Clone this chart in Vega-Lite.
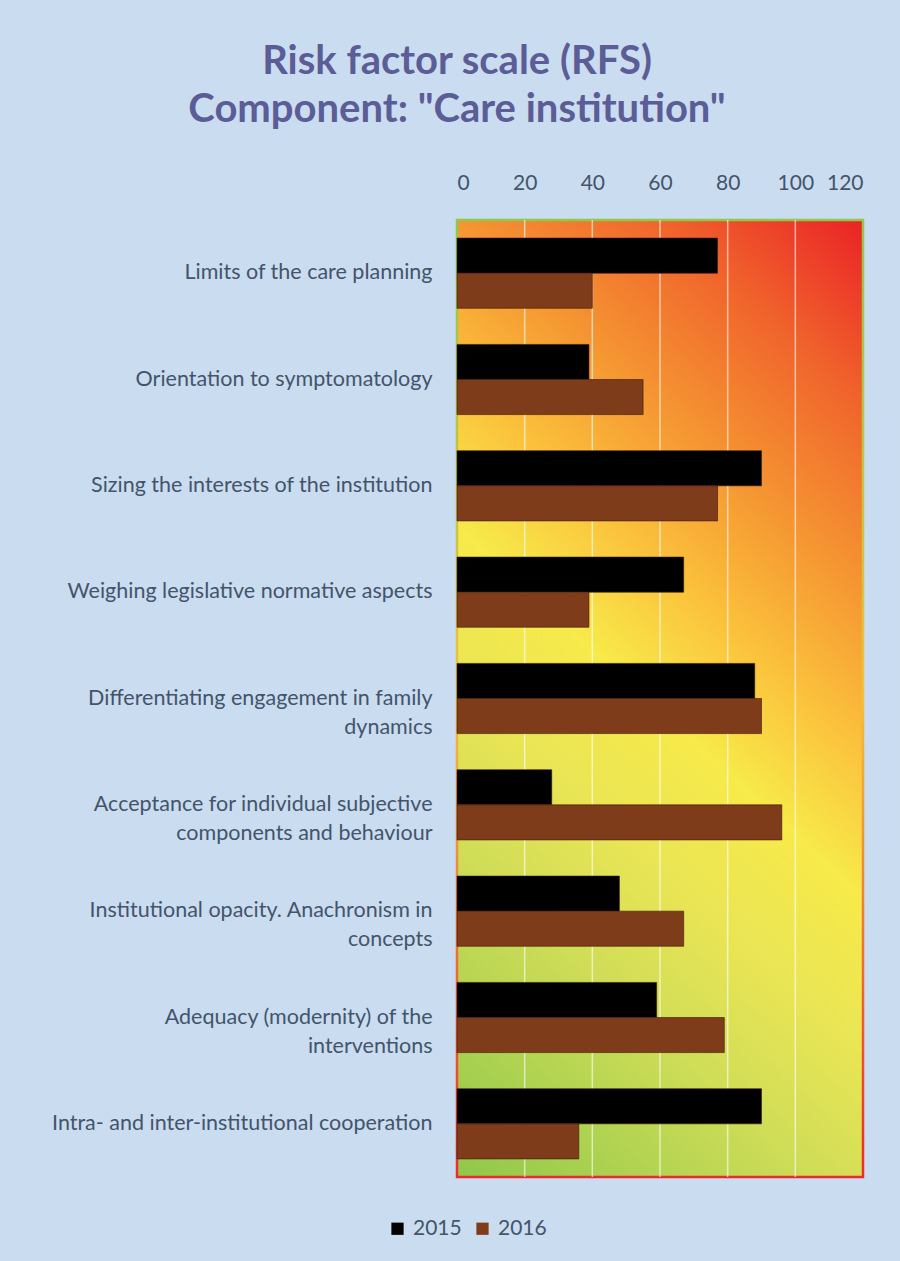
{
  "$schema": "https://vega.github.io/schema/vega-lite/v6.json",
  "width": 406,
  "height": 957,
  "autosize": {"type": "none"},
  "padding": {"left": 457, "top": 220, "right": 37, "bottom": 84},
  "background": "#c9dcf0",
  "title": {
    "text": ["Risk factor scale (RFS)", "Component: \"Care institution\""],
    "font": "Lato",
    "fontSize": 40,
    "fontWeight": "bold",
    "color": "#5c5c96",
    "lineHeight": 48,
    "anchor": "middle",
    "dx": -203,
    "offset": 42
  },
  "config": {
    "view": {"stroke": null},
    "axis": {"labelFont": "Lato", "labelColor": "#44546a"},
    "legend": {"labelFont": "Lato"}
  },
  "layer": [
    {
      "data": {"values": [{"a": 0, "b": 120}]},
      "mark": {
        "type": "rect",
        "fill": {
          "gradient": "linear",
          "x1": 0, "y1": 1, "x2": 0.47, "y2": -0.207,
          "stops": [
            {"offset": 0, "color": "#8fc84b"},
            {"offset": 0.25, "color": "#d0dd57"},
            {"offset": 0.37, "color": "#e9e555"},
            {"offset": 0.49, "color": "#f7ea4a"},
            {"offset": 0.6, "color": "#fbc23c"},
            {"offset": 0.72, "color": "#f59632"},
            {"offset": 0.86, "color": "#f0642c"},
            {"offset": 1, "color": "#ea2226"}
          ]
        },
        "stroke": {
          "gradient": "linear",
          "x1": 0, "y1": 0, "x2": 0, "y2": 1,
          "stops": [
            {"offset": 0, "color": "#8fc84b"},
            {"offset": 0.5, "color": "#f0c040"},
            {"offset": 1, "color": "#ee2a2a"}
          ]
        },
        "strokeWidth": 2.5
      },
      "encoding": {
        "x": {"field": "a", "type": "quantitative"},
        "x2": {"field": "b"}
      }
    },
    {
      "data": {"values": [{"g": 20}, {"g": 40}, {"g": 60}, {"g": 80}, {"g": 100}]},
      "mark": {"type": "rule", "color": "#ffffff", "opacity": 0.6, "strokeWidth": 1.5},
      "encoding": {"x": {"field": "g", "type": "quantitative"}}
    },
    {
      "data": {
        "values": [
          {"item": "Limits of the care planning", "year": "2015", "value": 77},
          {"item": "Limits of the care planning", "year": "2016", "value": 40},
          {"item": "Orientation to symptomatology", "year": "2015", "value": 39},
          {"item": "Orientation to symptomatology", "year": "2016", "value": 55},
          {"item": "Sizing the interests of the institution", "year": "2015", "value": 90},
          {"item": "Sizing the interests of the institution", "year": "2016", "value": 77},
          {"item": "Weighing legislative normative aspects", "year": "2015", "value": 67},
          {"item": "Weighing legislative normative aspects", "year": "2016", "value": 39},
          {"item": "Differentiating engagement in family|dynamics", "year": "2015", "value": 88},
          {"item": "Differentiating engagement in family|dynamics", "year": "2016", "value": 90},
          {"item": "Acceptance for individual subjective|components and behaviour", "year": "2015", "value": 28},
          {"item": "Acceptance for individual subjective|components and behaviour", "year": "2016", "value": 96},
          {"item": "Institutional opacity. Anachronism in|concepts", "year": "2015", "value": 48},
          {"item": "Institutional opacity. Anachronism in|concepts", "year": "2016", "value": 67},
          {"item": "Adequacy (modernity) of the|interventions", "year": "2015", "value": 59},
          {"item": "Adequacy (modernity) of the|interventions", "year": "2016", "value": 79},
          {"item": "Intra- and inter-institutional cooperation", "year": "2015", "value": 90},
          {"item": "Intra- and inter-institutional cooperation", "year": "2016", "value": 36}
        ]
      },
      "mark": {"type": "bar", "strokeWidth": 0.6, "stroke": "#3a1a08"},
      "encoding": {
        "y": {
          "field": "item",
          "type": "nominal",
          "sort": null,
          "scale": {"paddingInner": 0.34, "paddingOuter": 0.17},
          "axis": {
            "title": null,
            "domain": false,
            "ticks": false,
            "labelFontSize": 21.5,
            "labelPadding": 25,
            "labelLimit": 600,
            "labelLineHeight": 29,
            "labelExpr": "split(datum.label, '|')"
          }
        },
        "yOffset": {"field": "year", "type": "nominal"},
        "x": {
          "field": "value",
          "type": "quantitative",
          "scale": {"domain": [0, 120], "nice": false},
          "axis": {
            "orient": "top",
            "title": null,
            "domain": false,
            "ticks": false,
            "grid": false,
            "values": [0, 20, 40, 60, 80, 100, 120],
            "labelFontSize": 21,
            "labelPadding": 27
          }
        },
        "color": {
          "field": "year",
          "type": "nominal",
          "scale": {"domain": ["2015", "2016"], "range": ["#000000", "#7f3c1b"]},
          "legend": {
            "title": null,
            "orient": "none",
            "legendX": -70,
            "legendY": 998,
            "direction": "horizontal",
            "symbolType": "square",
            "symbolSize": 150,
            "symbolStrokeWidth": 0,
            "labelFontSize": 21,
            "labelColor": "#44546a",
            "labelOffset": 5,
            "columnPadding": 10
          }
        }
      }
    }
  ]
}
